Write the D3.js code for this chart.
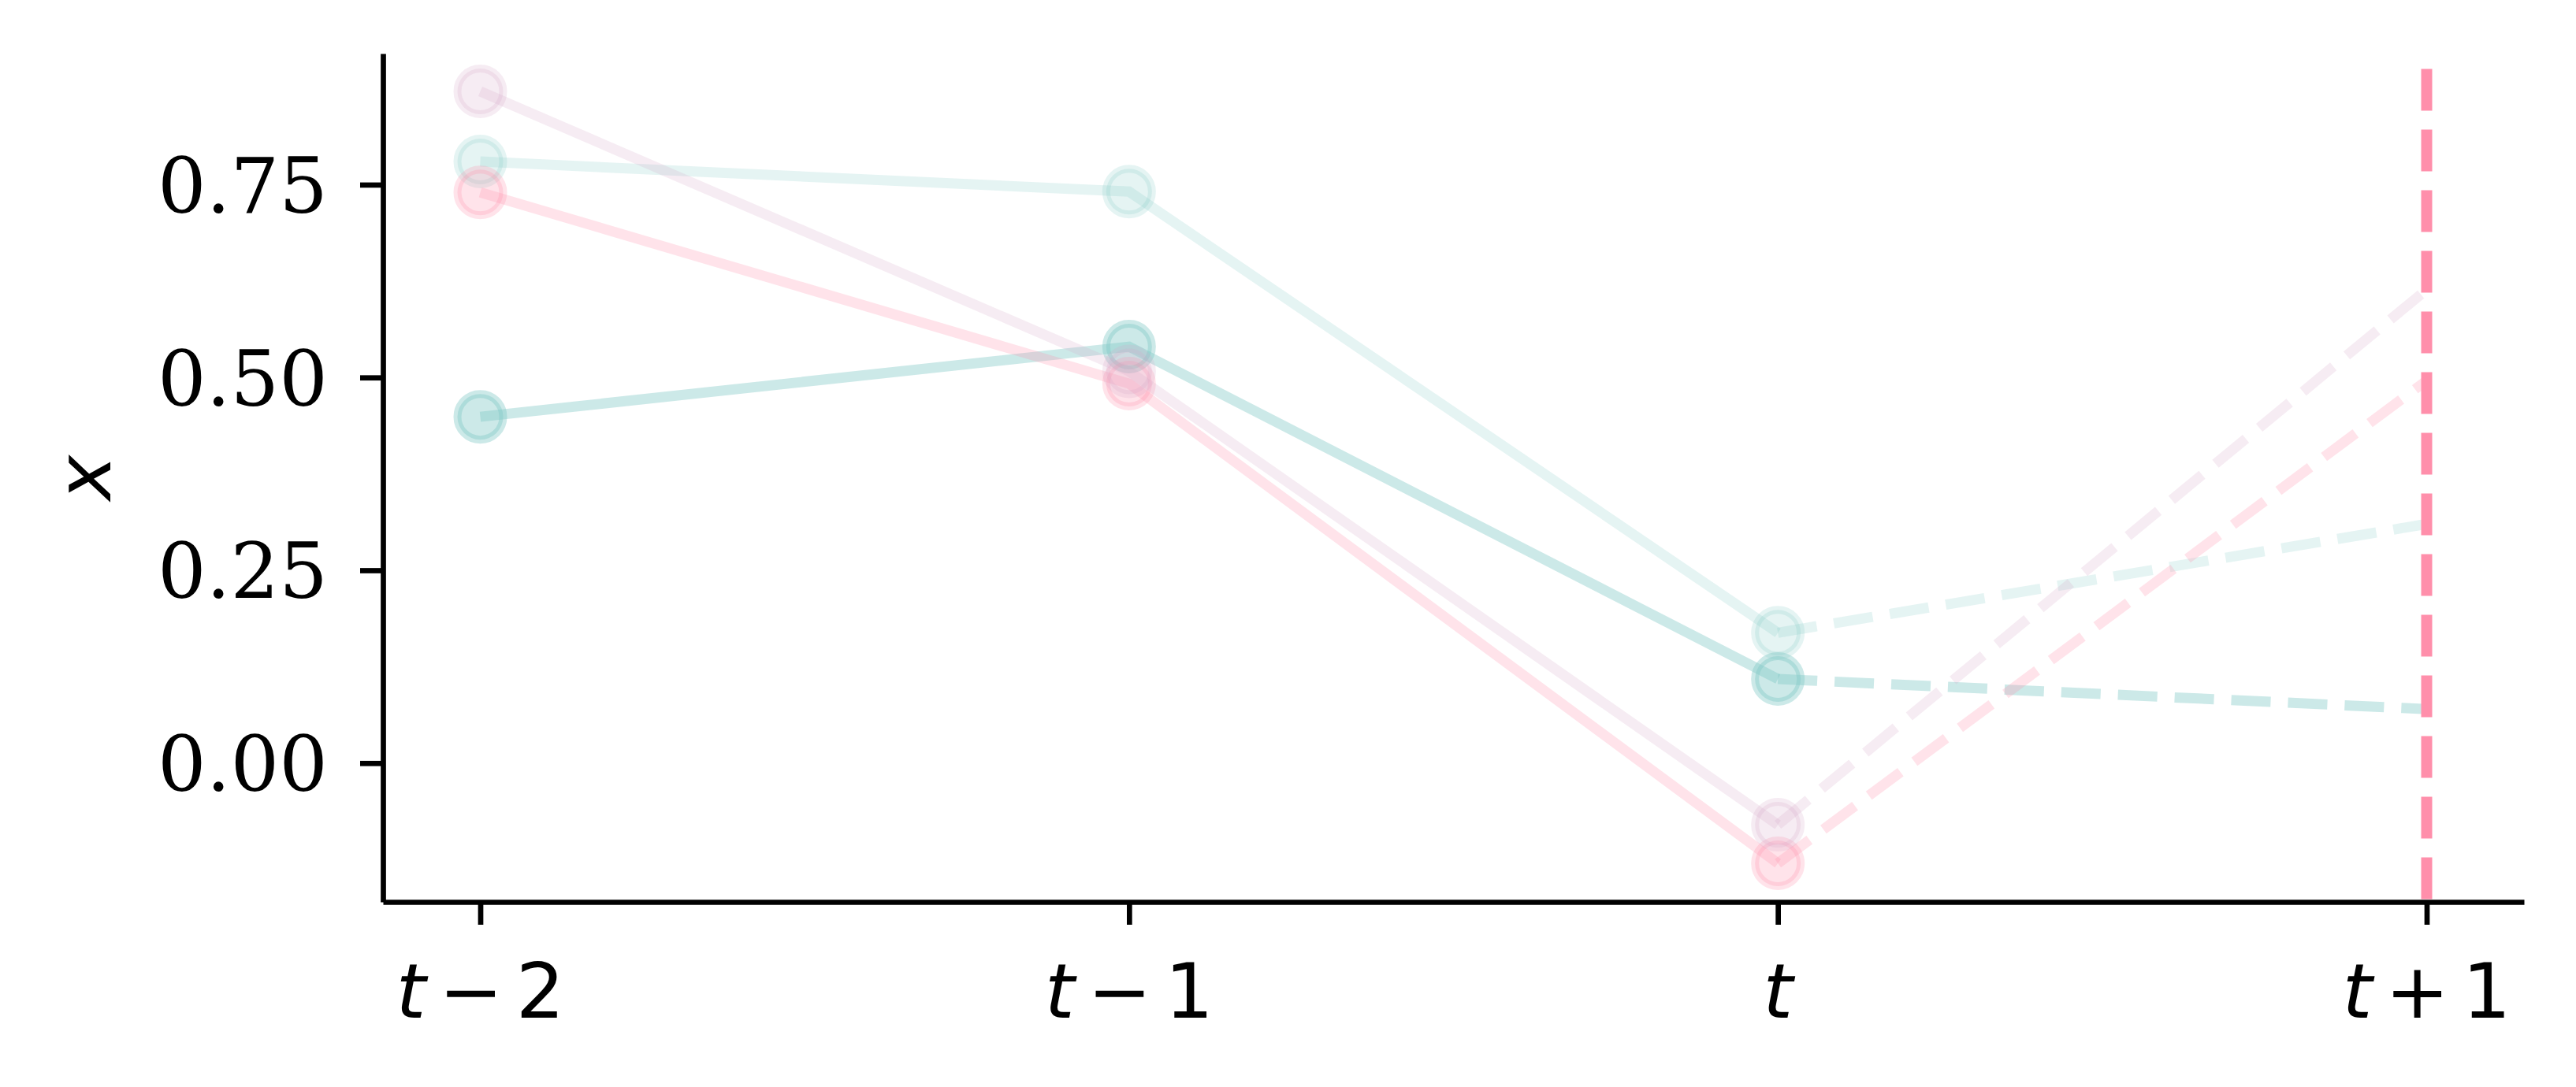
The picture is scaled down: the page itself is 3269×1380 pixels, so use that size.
<!DOCTYPE html>
<html>
<head>
<meta charset="utf-8">
<script src="https://cdn.jsdelivr.net/npm/d3@7"></script>
<style>
  html, body { margin: 0; padding: 0; background: #ffffff; }
  svg { display: block; }
</style>
</head>
<body>
<svg id="chart" width="3269" height="1380"></svg>
<script>
// ---- data ----
const steps = ["t-2", "t-1", "t", "t+1"];
const stepLabels = [["t", "−", "2"], ["t", "−", "1"], ["t"], ["t", "+", "1"]];
const yTicks = [0, 0.25, 0.5, 0.75];
const seriesNames = ["teal", "tealLight", "pink", "lavender"];
const tealValues = [0.449, 0.540, 0.109, 0.070];
const tealLightValues = [0.780, 0.741, 0.169, 0.310];
const pinkValues = [0.740, 0.492, -0.130, 0.496];
const lavenderValues = [0.871, 0.508, -0.080, 0.614];
const seriesColors = ["#7fc8c5", "#7fc8c5", "#ff8fab", "#d8a8c8"];
const seriesAlpha = [0.4, 0.2, 0.25, 0.22];
const forecastStep = 3;
const forecastLineTop = 0.9;

const seriesValues = [tealValues, tealLightValues, pinkValues, lavenderValues];

// ---- layout ----
const svg = d3.select("#chart");
const mLeft = 486, mRight = 3203, mTop = 68, mBottom = 1145;
const x = d3.scaleLinear().domain([-0.15, 3.15]).range([mLeft, mRight]);
const y = d3.scaleLinear().domain([-0.18, 0.92]).range([mBottom, mTop]);

const LW = 13;
const DASH = "50,22";
const FS = 97;

// series
const g = svg.append("g");
seriesValues.forEach((vals, si) => {
  const col = seriesColors[si], a = seriesAlpha[si];
  const pts = vals.map((v, i) => [x(i), y(v)]);
  const solid = d3.line()(pts.slice(0, 3));
  const dashed = d3.line()(pts.slice(2, 4));
  const sg = g.append("g").attr("class", "series-" + seriesNames[si]);
  sg.append("path").attr("d", solid)
    .attr("fill", "none").attr("stroke", col).attr("stroke-opacity", a)
    .attr("stroke-width", LW).attr("stroke-linejoin", "miter").attr("stroke-linecap", "butt");
  sg.append("path").attr("d", dashed)
    .attr("fill", "none").attr("stroke", col).attr("stroke-opacity", a)
    .attr("stroke-width", LW).attr("stroke-dasharray", DASH).attr("stroke-linecap", "butt");
  sg.selectAll("circle").data(vals.slice(0, 3)).enter().append("circle")
    .attr("cx", (d, i) => x(i)).attr("cy", d => y(d)).attr("r", 29)
    .attr("fill", col).attr("fill-opacity", a)
    .attr("stroke", col).attr("stroke-opacity", a).attr("stroke-width", 10);
});

// forecast vertical line
svg.append("line")
  .attr("x1", x(forecastStep)).attr("x2", x(forecastStep))
  .attr("y1", y(forecastLineTop)).attr("y2", mBottom)
  .attr("stroke", "#ff8fab").attr("stroke-width", 14)
  .attr("stroke-dasharray", "53,24");

// axes
const yAxis = d3.axisLeft(y).tickValues(yTicks).tickSizeInner(29).tickSizeOuter(0)
  .tickFormat(d => d.toFixed(2));
const ya = svg.append("g").attr("transform", `translate(${mLeft},0)`).call(yAxis);
ya.select(".domain").attr("stroke", "#000").attr("stroke-width", 6.7);
ya.selectAll(".tick line").attr("stroke", "#000").attr("stroke-width", 6.7);
ya.selectAll(".tick text").attr("font-family", "DejaVu Serif").attr("font-size", FS)
  .attr("fill", "#000").attr("dy", "0.36em").attr("x", -70);

const xAxis = d3.axisBottom(x).tickValues(steps.map((s, i) => i)).tickSizeInner(29)
  .tickSizeOuter(0).tickFormat("");
const xa = svg.append("g").attr("transform", `translate(0,${mBottom})`).call(xAxis);
xa.select(".domain").attr("stroke", "#000").attr("stroke-width", 6.7);
xa.selectAll(".tick line").attr("stroke", "#000").attr("stroke-width", 6.7);

// x tick labels (math style)
stepLabels.forEach((parts, i) => {
  const t = svg.append("text")
    .attr("x", x(i)).attr("y", 1292)
    .attr("text-anchor", "middle")
    .attr("font-family", "DejaVu Sans").attr("font-size", FS).attr("fill", "#000");
  parts.forEach((p, k) => {
    const ts = t.append("tspan").text(p);
    if (k === 0) ts.attr("font-style", "italic");
    else ts.attr("dx", "0.17em");
  });
});

// y axis label
svg.append("text")
  .attr("transform", `translate(140,${(mTop + mBottom) / 2}) rotate(-90)`)
  .attr("text-anchor", "middle")
  .attr("font-family", "DejaVu Sans").attr("font-style", "italic")
  .attr("font-size", FS).attr("fill", "#000")
  .text("x");
</script>
</body>
</html>
